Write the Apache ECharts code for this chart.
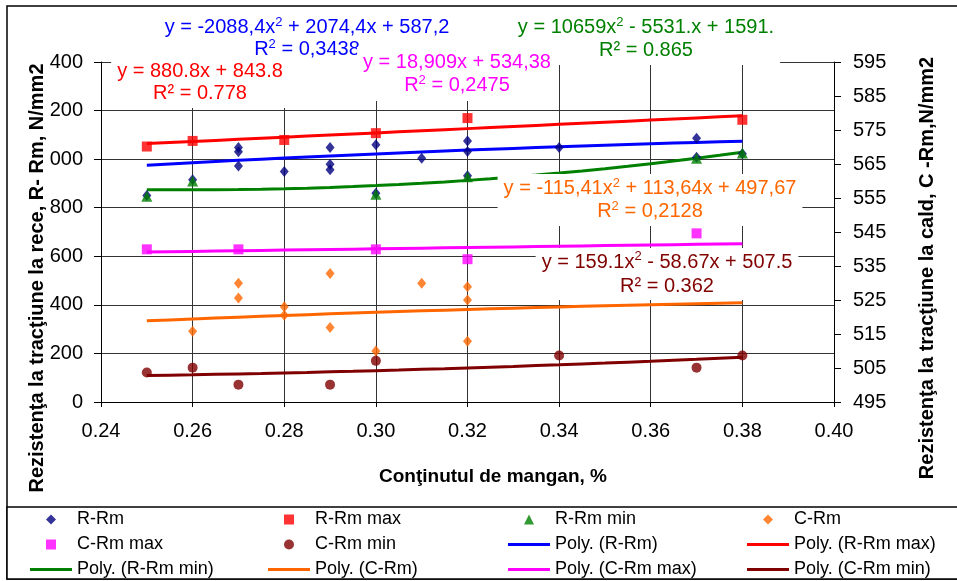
<!DOCTYPE html>
<html>
<head>
<meta charset="utf-8">
<script src="https://cdn.jsdelivr.net/npm/echarts@6/dist/echarts.min.js"></script>
<style>
  html, body { margin: 0; padding: 0; background: #fff; }
  #chart { width: 957px; height: 581px; }
</style>
</head>
<body>
<div id="chart"></div>
<script>
// Manganese content (%) and tensile strength readings
const xRRm = [0.25, 0.26, 0.27, 0.27, 0.27, 0.28, 0.29, 0.29, 0.29, 0.30, 0.30, 0.31, 0.32, 0.32, 0.32, 0.34, 0.37, 0.37, 0.38];
const yRRm = [850, 915, 1048, 1030, 972, 949, 1048, 979, 956, 1059, 860, 1004, 1075, 1031, 932, 1048, 1086, 1008, 1022];

const xRRmMax = [0.25, 0.26, 0.28, 0.30, 0.32, 0.38];
const yRRmMax = [1052, 1075, 1079, 1107, 1169, 1162];

const xRRmMin = [0.25, 0.26, 0.30, 0.32, 0.37, 0.38];
const yRRmMin = [847, 910, 855, 928, 1004, 1025];

const xCRm = [0.26, 0.27, 0.27, 0.28, 0.28, 0.29, 0.29, 0.30, 0.31, 0.32, 0.32, 0.32];
const yCRm = [515.8, 529.9, 525.6, 523.0, 520.5, 532.8, 516.9, 510.0, 529.9, 528.9, 525.0, 512.9];

const xCRmMax = [0.25, 0.27, 0.30, 0.32, 0.37];
const yCRmMax = [539.9, 539.9, 539.9, 537.0, 544.6];

const xCRmMin = [0.25, 0.26, 0.27, 0.29, 0.30, 0.34, 0.37, 0.38];
const yCRmMin = [503.7, 505.1, 500.1, 500.1, 507.1, 508.7, 505.1, 508.7];

// Polynomial trend coefficients [x^2, x, 1], as printed on the chart
const trendRRm    = [-2088.4, 2074.4, 587.2];
const trendRRmMax = [0, 880.8, 843.8];
const trendRRmMin = [10659, -5531, 1591];
const trendCRm    = [-115.41, 113.64, 497.67];
const trendCRmMax = [0, 18.909, 534.38];
const trendCRmMin = [159.1, -58.67, 507.5];
const trendRange  = [0.25, 0.38];

// Axis ticks
const xTicks  = [0.24, 0.40, 0.02];
const yLeft   = [0, 1400, 200];
const yRight  = [495, 595, 10];

const seriesNames = ['R-Rm', 'R-Rm max', 'R-Rm min', 'C-Rm', 'C-Rm max', 'C-Rm min'];
const trendNames = ['Poly. (R-Rm)', 'Poly. (R-Rm max)', 'Poly. (R-Rm min)',
                    'Poly. (C-Rm)', 'Poly. (C-Rm max)', 'Poly. (C-Rm min)'];

const FONT = '"Liberation Sans", Arial, sans-serif';

function zip(xs, ys) { return xs.map((x, i) => [x, ys[i]]); }

function trendPoints(c) {
  const pts = [];
  const steps = 26;
  for (let i = 0; i <= steps; i++) {
    const x = trendRange[0] + (trendRange[1] - trendRange[0]) * i / steps;
    pts.push([x, c[0] * x * x + c[1] * x + c[2]]);
  }
  return pts;
}

function scatter(name, data, symbol, size, color, axis) {
  return {
    name, type: 'scatter', data, yAxisIndex: axis, symbol, symbolSize: size,
    itemStyle: { color }, z: 5, silent: true
  };
}
function trend(name, coef, color, axis) {
  return {
    name, type: 'line', data: trendPoints(coef), yAxisIndex: axis,
    showSymbol: false, symbol: 'none', smooth: false,
    lineStyle: { color, width: 3 }, itemStyle: { color }, z: 3, silent: true
  };
}

const C = {
  navy: '#000080', red: '#FF0000', green: '#008000', orange: '#FF6600',
  magenta: '#FF00FF', brown: '#800000', blue: '#0000FF'
};

const ICON = {
  diamond: 'path://M5,0L10,5L5,10L0,5Z',
  square: 'path://M0,0L10,0L10,10L0,10Z',
  triangle: 'path://M5,0L10,10L0,10Z',
  circle: 'path://M5,0A5,5,0,1,1,5,10A5,5,0,1,1,5,0Z',
  line: 'path://M0,0L42,0L42,3L0,3Z'
};

const legendEntry = {
  'R-Rm': [ICON.diamond, C.navy],
  'R-Rm max': [ICON.square, C.red],
  'R-Rm min': [ICON.triangle, C.green],
  'C-Rm': [ICON.diamond, C.orange],
  'C-Rm max': [ICON.square, C.magenta],
  'C-Rm min': [ICON.circle, C.brown],
  'Poly. (R-Rm)': [ICON.line, C.blue],
  'Poly. (R-Rm max)': [ICON.line, C.red],
  'Poly. (R-Rm min)': [ICON.line, C.green],
  'Poly. (C-Rm)': [ICON.line, C.orange],
  'Poly. (C-Rm max)': [ICON.line, C.magenta],
  'Poly. (C-Rm min)': [ICON.line, C.brown]
};

// Legend laid out as four columns of three entries
const legendColumns = [
  { left: 30,  names: ['R-Rm', 'C-Rm max', 'Poly. (R-Rm min)'] },
  { left: 268, names: ['R-Rm max', 'C-Rm min', 'Poly. (C-Rm)'] },
  { left: 508, names: ['R-Rm min', 'Poly. (R-Rm)', 'Poly. (C-Rm max)'] },
  { left: 747, names: ['C-Rm', 'Poly. (R-Rm max)', 'Poly. (C-Rm min)'] }
];

const legends = legendColumns.map(col => ({
  data: col.names.map(n => ({ name: n, icon: legendEntry[n][0], itemStyle: { color: legendEntry[n][1] } })),
  orient: 'vertical', left: col.left, top: 507, width: 220, height: 120, padding: 0,
  itemGap: 0, itemWidth: 42, itemHeight: 10, selectedMode: false,
  symbolKeepAspect: true,
  itemStyle: { borderWidth: 0 },
  textStyle: { fontSize: 18, fontFamily: FONT, color: '#000', lineHeight: 25 }
}));

// Trend equation boxes (white background hides what lies beneath)
function eqRich(color) {
  return {
    a: { fontSize: 20, fontFamily: FONT, lineHeight: 23, fill: color },
    s: { fontSize: 13, fontFamily: FONT, lineHeight: 14, verticalAlign: 'top', fill: color }
  };
}
function eqBox(x, y, text, color, lh, pad, z) {
  const rich = eqRich(color);
  rich.a.lineHeight = lh;
  return {
    type: 'text', x, y, z: z || 100,
    style: {
      text, align: 'center', verticalAlign: 'top',
      backgroundColor: '#fff', padding: pad,
      fill: color, fontSize: 20, fontFamily: FONT, rich
    }
  };
}

const graphics = [
  { type: 'rect', z: 0, shape: { x: 7, y: 6, width: 960, height: 573 },
    style: { fill: 'none', stroke: '#000', lineWidth: 1.5 } },
  { type: 'rect', z: 1, shape: { x: 7, y: 507, width: 960, height: 72 },
    style: { fill: '#fff', stroke: '#000', lineWidth: 1.5 } },
  eqBox(307, 12, '{a|y = -2088,4x}{s|2}{a| + 2074,4x + 587,2}\n{a|R}{s|2}{a| = 0,3438}', C.blue, 22, [4, 6], 100),
  eqBox(457, 47, '{a|y = 18,909x + 534,38}\n{a|R}{s|2}{a| = 0,2475}', C.magenta, 23, [4, 6], 101),
  eqBox(200, 56, '{a|y = 880.8x + 843.8}\n{a|R² = 0.778}', C.red, 22, [4, 6], 102),
  eqBox(646, 13, '{a|y = 10659x}{s|2}{a| - 5531.x + 1591.}\n{a|R² = 0.865}', C.green, 23, [3, 6], 100),
  eqBox(650, 174, '{a|y = -115,41x}{s|2}{a| + 113,64x + 497,67}\n{a|R}{s|2}{a| = 0,2128}', C.orange, 23, [3, 6], 100),
  eqBox(667, 248, '{a|y = 159.1x}{s|2}{a| - 58.67x + 507.5}\n{a|R² = 0.362}', C.brown, 24, [2, 6], 100),
  { type: 'text', x: 37, y: 278, rotation: Math.PI / 2, z: 110,
    style: { text: 'Rezistenţa la tracţiune la rece, R- Rm, N/mm2', align: 'center', verticalAlign: 'middle',
      fontSize: 20, fontWeight: 'bold', fontFamily: FONT, fill: '#000',
      backgroundColor: '#fff', lineHeight: 26, padding: [0, 10] } },
  { type: 'text', x: 927, y: 268, rotation: Math.PI / 2, z: 110,
    style: { text: 'Rezistenţa la tracţiune la cald, C -Rm,N/mm2', align: 'center', verticalAlign: 'middle',
      fontSize: 20, fontWeight: 'bold', fontFamily: FONT, fill: '#000' } },
  { type: 'text', x: 493, y: 477, z: 110,
    style: { text: 'Conţinutul de mangan, %', align: 'center', verticalAlign: 'middle',
      fontSize: 19, fontWeight: 'bold', fontFamily: FONT, fill: '#000' } }
];

const axisLine = { show: true, lineStyle: { color: '#000', width: 1 } };
const grid = { color: '#333', width: 1 };

const option = {
  animation: false,
  backgroundColor: '#fff',
  grid: { left: 101, right: 123, top: 62, height: 340, containLabel: false },
  xAxis: {
    type: 'value', min: xTicks[0], max: xTicks[1], interval: xTicks[2],
    axisLine, axisTick: { show: true, length: 5, lineStyle: { color: '#000' } },
    axisLabel: { margin: 19, fontSize: 20, fontFamily: FONT, color: '#000',
      formatter: v => v.toFixed(2) },
    splitLine: { show: true, lineStyle: grid }
  },
  yAxis: [
    {
      type: 'value', min: yLeft[0], max: yLeft[1], interval: yLeft[2], position: 'left',
      axisLine, axisTick: { show: true, length: 7, lineStyle: { color: '#000' } },
      axisLabel: { margin: 18, fontSize: 20, fontFamily: FONT, color: '#000' },
      splitLine: { show: true, lineStyle: grid }
    },
    {
      type: 'value', min: yRight[0], max: yRight[1], interval: yRight[2], position: 'right',
      axisLine, axisTick: { show: true, length: 7, lineStyle: { color: '#000' } },
      axisLabel: { margin: 19, fontSize: 20, fontFamily: FONT, color: '#000' },
      splitLine: { show: false }
    }
  ],
  legend: legends,
  graphic: graphics,
  series: [
    scatter(seriesNames[0], zip(xRRm, yRRm), 'diamond', [9, 11], C.navy, 0),
    scatter(seriesNames[1], zip(xRRmMax, yRRmMax), 'rect', 10, C.red, 0),
    scatter(seriesNames[2], zip(xRRmMin, yRRmMin), 'triangle', 11, C.green, 0),
    scatter(seriesNames[3], zip(xCRm, yCRm), 'diamond', [9, 11], C.orange, 1),
    scatter(seriesNames[4], zip(xCRmMax, yCRmMax), 'rect', 10, C.magenta, 1),
    scatter(seriesNames[5], zip(xCRmMin, yCRmMin), 'circle', 10, C.brown, 1),
    trend(trendNames[0], trendRRm, C.blue, 0),
    trend(trendNames[1], trendRRmMax, C.red, 0),
    trend(trendNames[2], trendRRmMin, C.green, 0),
    trend(trendNames[3], trendCRm, C.orange, 1),
    trend(trendNames[4], trendCRmMax, C.magenta, 1),
    trend(trendNames[5], trendCRmMin, C.brown, 1)
  ]
};

const chart = echarts.init(document.getElementById('chart'), null, { renderer: 'canvas' });
chart.setOption(option);
</script>
</body>
</html>
